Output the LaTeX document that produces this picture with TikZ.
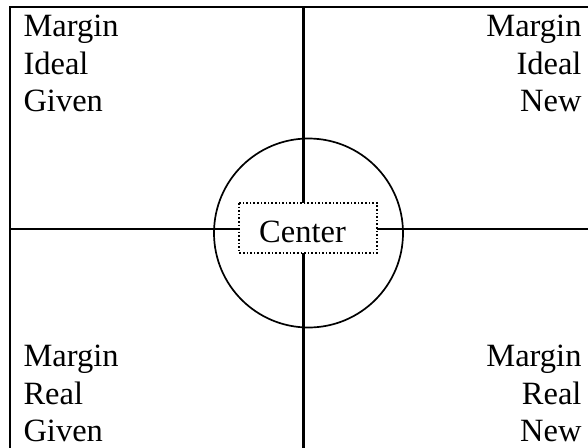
\documentclass[tikz,border=0pt]{standalone}
\usepackage{fontspec}
\setmainfont{Liberation Serif}
\begin{document}
\begin{tikzpicture}[x=1pt,y=-1pt,
  lbl/.style={inner sep=0pt,font=\fontsize{32.5}{38}\selectfont},
  frame/.style={line width=2.2pt,black},
  dotbox/.style={draw,line width=1.6pt,dotted,fill=white}]
\useasboundingbox (0,0) rectangle (588,447);
% frame lines
\coordinate (tl) at (10,7);
\coordinate (tr) at (590,7);
\coordinate (bl) at (10,449);
\coordinate (mt) at (303.5,7);
\coordinate (mb) at (303.5,449);
\coordinate (ml) at (10,229);
\coordinate (mr) at (590,229);
\draw[frame] (bl) -- (tl) -- (tr);
\draw[frame] (mt) -- (mb);
\draw[frame] (ml) -- (mr);
% circle
\node[draw,circle,line width=1.7pt,minimum size=189pt,inner sep=0pt] (circ) at (308.5,233) {};
% center box
\draw[dotbox] (239,203) rectangle (377,253);
\node[lbl,anchor=base] (center) at (302.5,242.7) {Center};
% top-left
\node[lbl,anchor=base west] (tl1) at (23.3,36.7) {Margin};
\node[lbl,anchor=base west] (tl2) at (23.3,74) {Ideal};
\node[lbl,anchor=base west] (tl3) at (23.3,111.3) {Given};
% top-right
\node[lbl,anchor=base east] (tr1) at (581.7,36.7) {Margin};
\node[lbl,anchor=base east] (tr2) at (581.7,74) {Ideal};
\node[lbl,anchor=base east] (tr3) at (581.7,111.3) {New};
% bottom-left
\node[lbl,anchor=base west] (bl1) at (23.3,366.7) {Margin};
\node[lbl,anchor=base west] (bl2) at (23.3,404) {Real};
\node[lbl,anchor=base west] (bl3) at (23.3,441.3) {Given};
% bottom-right
\node[lbl,anchor=base east] (br1) at (581.7,366.7) {Margin};
\node[lbl,anchor=base east] (br2) at (581.7,404) {Real};
\node[lbl,anchor=base east] (br3) at (581.7,441.3) {New};
\end{tikzpicture}
\end{document}
